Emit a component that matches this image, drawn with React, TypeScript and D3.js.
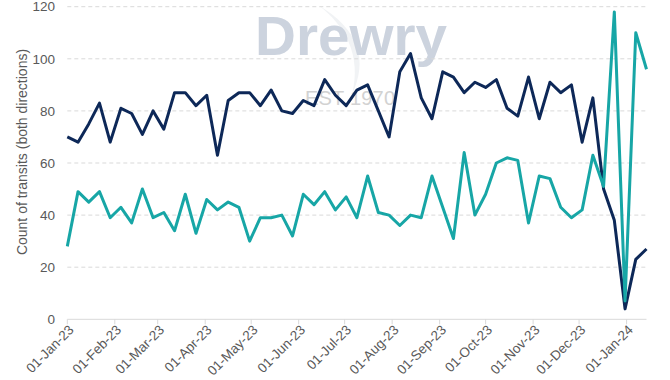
import React from "react";
import * as d3 from "d3";

const startDate = new Date(2023, 0, 1);
const endDate = new Date(2024, 0, 14);

const navySeries = [70,68,75,83,68,81,79,71,80,73,87,87,82,86,63,84,87,87,82,88,80,79,84,82,92,86,82,88,90,80,70,95,102,85,77,95,93,87,91,89,92,81,78,93,77,91,87,90,68,85,50,38,4,23,27];
const tealSeries = [28,49,45,49,39,43,37,50,39,41,34,48,33,46,42,45,43,30,39,39,40,32,48,44,49,42,47,39,55,41,40,36,40,39,55,43,31,64,40,48,60,62,61,37,55,54,43,39,42,63,51,118,7,110,96];
const yTicks = [0, 20, 40, 60, 80, 100, 120];
const monthTicks = d3.timeMonths(new Date(2023, 0, 1), new Date(2024, 0, 2));
const yTitle = "Count of transits (both directions)";

const W = 670, H = 380;
const X0 = 67.3, X1 = 646.5, Y0 = 319.3, Y1 = 6.7;

export default function App() {
  const dates = navySeries.map((_, i) => d3.timeDay.offset(startDate, i * 7));
  const x = d3.scaleTime().domain([startDate, endDate]).range([X0, X1]);
  const y = d3.scaleLinear().domain([0, 120]).range([Y0, Y1]);
  const line = d3.line<number>().x((_, i) => x(dates[i])).y(d => y(d)).curve(d3.curveLinear);
  const fmt = d3.timeFormat("%d-%b-%y");
  const font = "'Liberation Sans', Arial, sans-serif";

  return (
    <svg width={W} height={H} style={{ position: "absolute", left: 0, top: 0, background: "#fff" }} fontFamily={font}>
      {/* watermark */}
      <path d="M318,5 C345,25 362,55 352,95 C368,60 360,30 318,5 Z" fill="#f1f3f5" />
      <text x={255} y={55} fontSize={56} fontWeight={700} fill="#ccd3de" textLength={192} lengthAdjust="spacingAndGlyphs">Drewry</text>
      <text x={305} y={105} fontSize={20} fill="#d2d2d2" textLength={90} lengthAdjust="spacing">EST 1970</text>

      {/* gridlines */}
      {yTicks.filter(t => t > 0).map(t => (
        <line key={t} x1={X0} x2={X1} y1={y(t)} y2={y(t)} stroke="#d9d9d9" strokeWidth={1} strokeDasharray="4,3" />
      ))}
      {/* x axis */}
      <line x1={X0} x2={X1} y1={Y0} y2={Y0} stroke="#d9d9d9" strokeWidth={1} />
      {monthTicks.map((d, i) => (
        <g key={i}>
          <line x1={x(d)} x2={x(d)} y1={Y0} y2={Y0 + 5} stroke="#d9d9d9" strokeWidth={1} />
          <text transform={`translate(${x(d) + 4},${Y0 + 8}) rotate(-45)`} textAnchor="end" dy="0.35em" fontSize={13.5} fill="#595959">{fmt(d)}</text>
        </g>
      ))}
      {/* y labels */}
      {yTicks.map(t => (
        <text key={t} x={55} y={y(t)} dy="0.35em" textAnchor="end" fontSize={13.5} fill="#595959">{t}</text>
      ))}
      <text transform={`translate(22,152) rotate(-90)`} textAnchor="middle" dy="0.35em" fontSize={14} fill="#595959">{yTitle}</text>

      {/* series */}
      <path d={line(navySeries) || ""} fill="none" stroke="#0d2858" strokeWidth={3} strokeLinejoin="round" />
      <path d={line(tealSeries) || ""} fill="none" stroke="#17a6a6" strokeWidth={3} strokeLinejoin="round" />
    </svg>
  );
}
